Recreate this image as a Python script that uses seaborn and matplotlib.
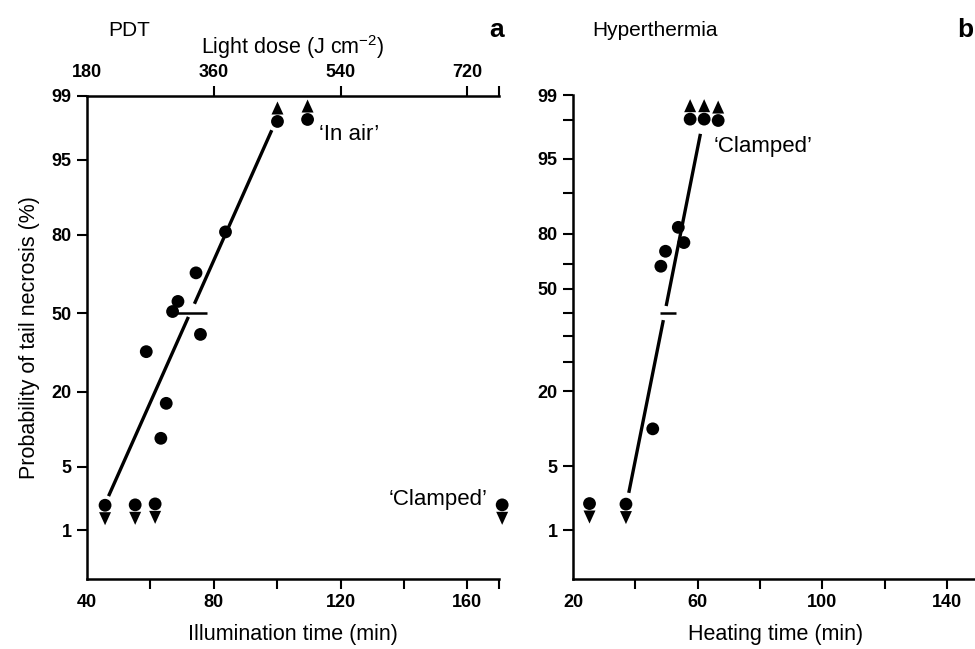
import numpy as np
import matplotlib
matplotlib.use("Agg")
import matplotlib.pyplot as plt
from matplotlib.path import Path
import seaborn as sns
from statistics import NormalDist

# ---------------- data ----------------
# Panel a: PDT
pdt_time = [58.7, 63.3, 65.0, 67.0, 68.7, 74.4, 75.8, 83.7]
pdt_prob = [34.0, 9.0, 16.7, 50.7, 55.0, 66.7, 41.0, 80.8]
pdt_low_time = [45.7, 55.2, 61.5, 171.0]          # censored: below detection
pdt_low_prob = [1.98, 2.0, 2.05, 2.0]
pdt_high_time = [100.1, 109.6]                    # censored: all necrosed
pdt_high_prob = [98.0, 98.1]
pdt_fit_lo_time = [46.8, 72.0]
pdt_fit_lo_prob = [2.5, 48.4]
pdt_fit_hi_time = [73.9, 98.3]
pdt_fit_hi_prob = [54.0, 97.5]
pdt_ed50_time = [68.4, 77.9]
pdt_ed50_prob = [50, 50]

# Panel b: Hyperthermia
hyp_time = [45.6, 48.2, 49.7, 53.8, 55.6]
hyp_prob = [10.7, 69.0, 74.4, 81.9, 77.3]
hyp_low_time = [25.3, 37.0]
hyp_low_prob = [2.06, 2.03]
hyp_high_time = [57.6, 62.1, 66.6]
hyp_high_prob = [98.07, 98.07, 98.0]
hyp_fit_lo_time = [37.9, 49.0]
hyp_fit_lo_prob = [2.7, 46.8]
hyp_fit_hi_time = [49.9, 60.9]
hyp_fit_hi_prob = [52.8, 97.2]
hyp_ed50_time = [47.8, 53.0]
hyp_ed50_prob = [50, 50]

# ticks
prob_ticks_a = [1, 5, 20, 50, 80, 95, 99]
prob_labels_a = ['1', '5', '20', '50', '80', '95', '99']
prob_ticks_b = [1, 5, 20, 30, 40, 50, 60, 70, 80, 90, 95, 98, 99]
prob_labels_b = ['1', '5', '20', '', '', '', '50', '', '80', '', '95', '', '99']
time_ticks_a = [40, 60, 80, 100, 120, 140, 160, 170]
time_labels_a = ['40', '', '80', '', '120', '', '160', '']
dose_ticks = [180, 360, 540, 720, 765]
dose_labels = ['180', '360', '540', '720', '']
time_ticks_b = [20, 40, 60, 80, 100, 120, 140]
time_labels_b = ['20', '', '60', '', '100', '', '140']
J_PER_MIN = 4.5

# ---------------- style ----------------
sns.set_theme(style="ticks")
plt.rcParams['font.family'] = ['Liberation Sans', 'DejaVu Sans']
plt.rcParams['mathtext.fontset'] = 'custom'
plt.rcParams['mathtext.rm'] = 'Liberation Sans'
plt.rcParams['mathtext.it'] = 'Liberation Sans:italic'
plt.rcParams['mathtext.bf'] = 'Liberation Sans:bold'
for k in ['text.color', 'axes.labelcolor', 'xtick.color', 'ytick.color', 'axes.edgecolor']:
    plt.rcParams[k] = 'black'

_nd = NormalDist()


def probit(p):
    p = np.asarray(p, dtype=float)
    q = np.clip(p / 100.0, 1e-9, 1 - 1e-9)
    nan = np.isnan(q)
    q = np.where(nan, 0.5, q)
    z = np.vectorize(_nd.inv_cdf, otypes=[float])(q) if q.size else q
    return np.where(nan, np.nan, z)


def inv_probit(z):
    z = np.asarray(z, dtype=float)
    return 100.0 * np.vectorize(_nd.cdf, otypes=[float])(z) if z.size else z


# marker paths: triangles offset from the dot centre (units = points)
up_tri = Path([(-4.3, 5.0), (4.3, 5.0), (0, 14.4), (-4.3, 5.0)],
              [Path.MOVETO, Path.LINETO, Path.LINETO, Path.CLOSEPOLY])
dn_tri = Path([(-4.3, -5.0), (4.3, -5.0), (0, -14.4), (-4.3, -5.0)],
              [Path.MOVETO, Path.LINETO, Path.LINETO, Path.CLOSEPOLY])
TRI_S = (2 * 14.4) ** 2
DOT_S = 85

W, H = 975, 649
fig = plt.figure(figsize=(W / 100, H / 100), dpi=100)


def box(l, t, r, b):
    return [l / W, 1 - b / H, (r - l) / W, (b - t) / H]


axa = fig.add_axes(box(87, 96, 499, 579))
axb = fig.add_axes(box(573, 95, 978, 579))


def draw_panel(ax, t, p, lo_t, lo_p, hi_t, hi_p, flo_t, flo_p, fhi_t, fhi_p, e_t, e_p):
    for xs, ys in [(flo_t, flo_p), (fhi_t, fhi_p)]:
        sns.lineplot(x=xs, y=ys, ax=ax, color='black', lw=2.4, sort=False,
                     estimator=None, solid_capstyle='butt')
    sns.lineplot(x=e_t, y=e_p, ax=ax, color='black', lw=1.8, sort=False,
                 estimator=None, solid_capstyle='butt')
    sns.scatterplot(x=t + lo_t + hi_t, y=p + lo_p + hi_p, ax=ax, color='black',
                    s=DOT_S, marker='o', linewidth=0, edgecolor='none',
                    clip_on=False, zorder=4)
    sns.scatterplot(x=lo_t, y=lo_p, ax=ax, color='black', s=TRI_S, marker=dn_tri,
                    linewidth=0, edgecolor='none', clip_on=False, zorder=4)
    sns.scatterplot(x=hi_t, y=hi_p, ax=ax, color='black', s=TRI_S, marker=up_tri,
                    linewidth=0, edgecolor='none', clip_on=False, zorder=4)
    ax.set_yscale('function', functions=(probit, inv_probit))
    ax.set_ylim(0.22, 99)
    ax.spines['right'].set_visible(False)
    ax.spines['top'].set_visible(False)
    for s in ['left', 'bottom']:
        ax.spines[s].set_linewidth(1.8)
    ax.tick_params(axis='both', direction='out', length=7, width=1.5,
                   labelsize=13, pad=4)


draw_panel(axa, pdt_time, pdt_prob, pdt_low_time, pdt_low_prob, pdt_high_time,
           pdt_high_prob, pdt_fit_lo_time, pdt_fit_lo_prob, pdt_fit_hi_time,
           pdt_fit_hi_prob, pdt_ed50_time, pdt_ed50_prob)
draw_panel(axb, hyp_time, hyp_prob, hyp_low_time, hyp_low_prob, hyp_high_time,
           hyp_high_prob, hyp_fit_lo_time, hyp_fit_lo_prob, hyp_fit_hi_time,
           hyp_fit_hi_prob, hyp_ed50_time, hyp_ed50_prob)

# axes a
axa.set_xlim(40, 170)
axa.set_xticks(time_ticks_a, time_labels_a, fontweight='bold')
axa.set_yticks(prob_ticks_a, prob_labels_a, fontweight='bold')
axa.minorticks_off()
axa.xaxis.get_major_ticks()[0].tick1line.set_visible(False)
axa.set_xlabel('Illumination time (min)', fontsize=15.5, labelpad=9)
axa.set_ylabel('Probability of tail necrosis (%)', fontsize=15.5, labelpad=8)

sec = axa.secondary_xaxis('top', functions=(lambda t: np.asarray(t) * J_PER_MIN,
                                            lambda d: np.asarray(d) / J_PER_MIN))
sec.set_xticks(dose_ticks, dose_labels, fontweight='bold')
sec.tick_params(axis='x', direction='out', length=7, width=1.5, labelsize=13, pad=4)
sec.spines['top'].set_linewidth(1.8)
for tk in [sec.xaxis.get_major_ticks()[0]]:
    tk.tick1line.set_visible(False)
    tk.tick2line.set_visible(False)
sec.set_xlabel('Light dose (J cm$^{-2}$)', fontsize=15.5, labelpad=7)

axa.text(113.2, 97.2, '\u2018In air\u2019', fontsize=16, ha='left', va='center')
axa.text(166.5, 2.27, '\u2018Clamped\u2019', fontsize=16, ha='right', va='center')

# axes b
axb.set_xlim(20, 150)
axb.set_xticks(time_ticks_b, time_labels_b, fontweight='bold')
axb.set_yticks(prob_ticks_b, prob_labels_b, fontweight='bold')
axb.minorticks_off()
axb.xaxis.get_major_ticks()[0].tick1line.set_visible(False)
axb.set_xlabel('Heating time (min)', fontsize=15.5, labelpad=9)
axb.text(65.1, 96.2, '\u2018Clamped\u2019', fontsize=16, ha='left', va='center')

# panel titles
fig.text(108 / W, 1 - 30 / H, 'PDT', fontsize=15, ha='left', va='center')
fig.text(504 / W, 1 - 30 / H, 'a', fontsize=19, fontweight='bold', ha='right', va='center')
fig.text(592 / W, 1 - 30 / H, 'Hyperthermia', fontsize=15, ha='left', va='center')
fig.text(973 / W, 1 - 30 / H, 'b', fontsize=19, fontweight='bold', ha='right', va='center')

fig.savefig('out.png', dpi=100)
